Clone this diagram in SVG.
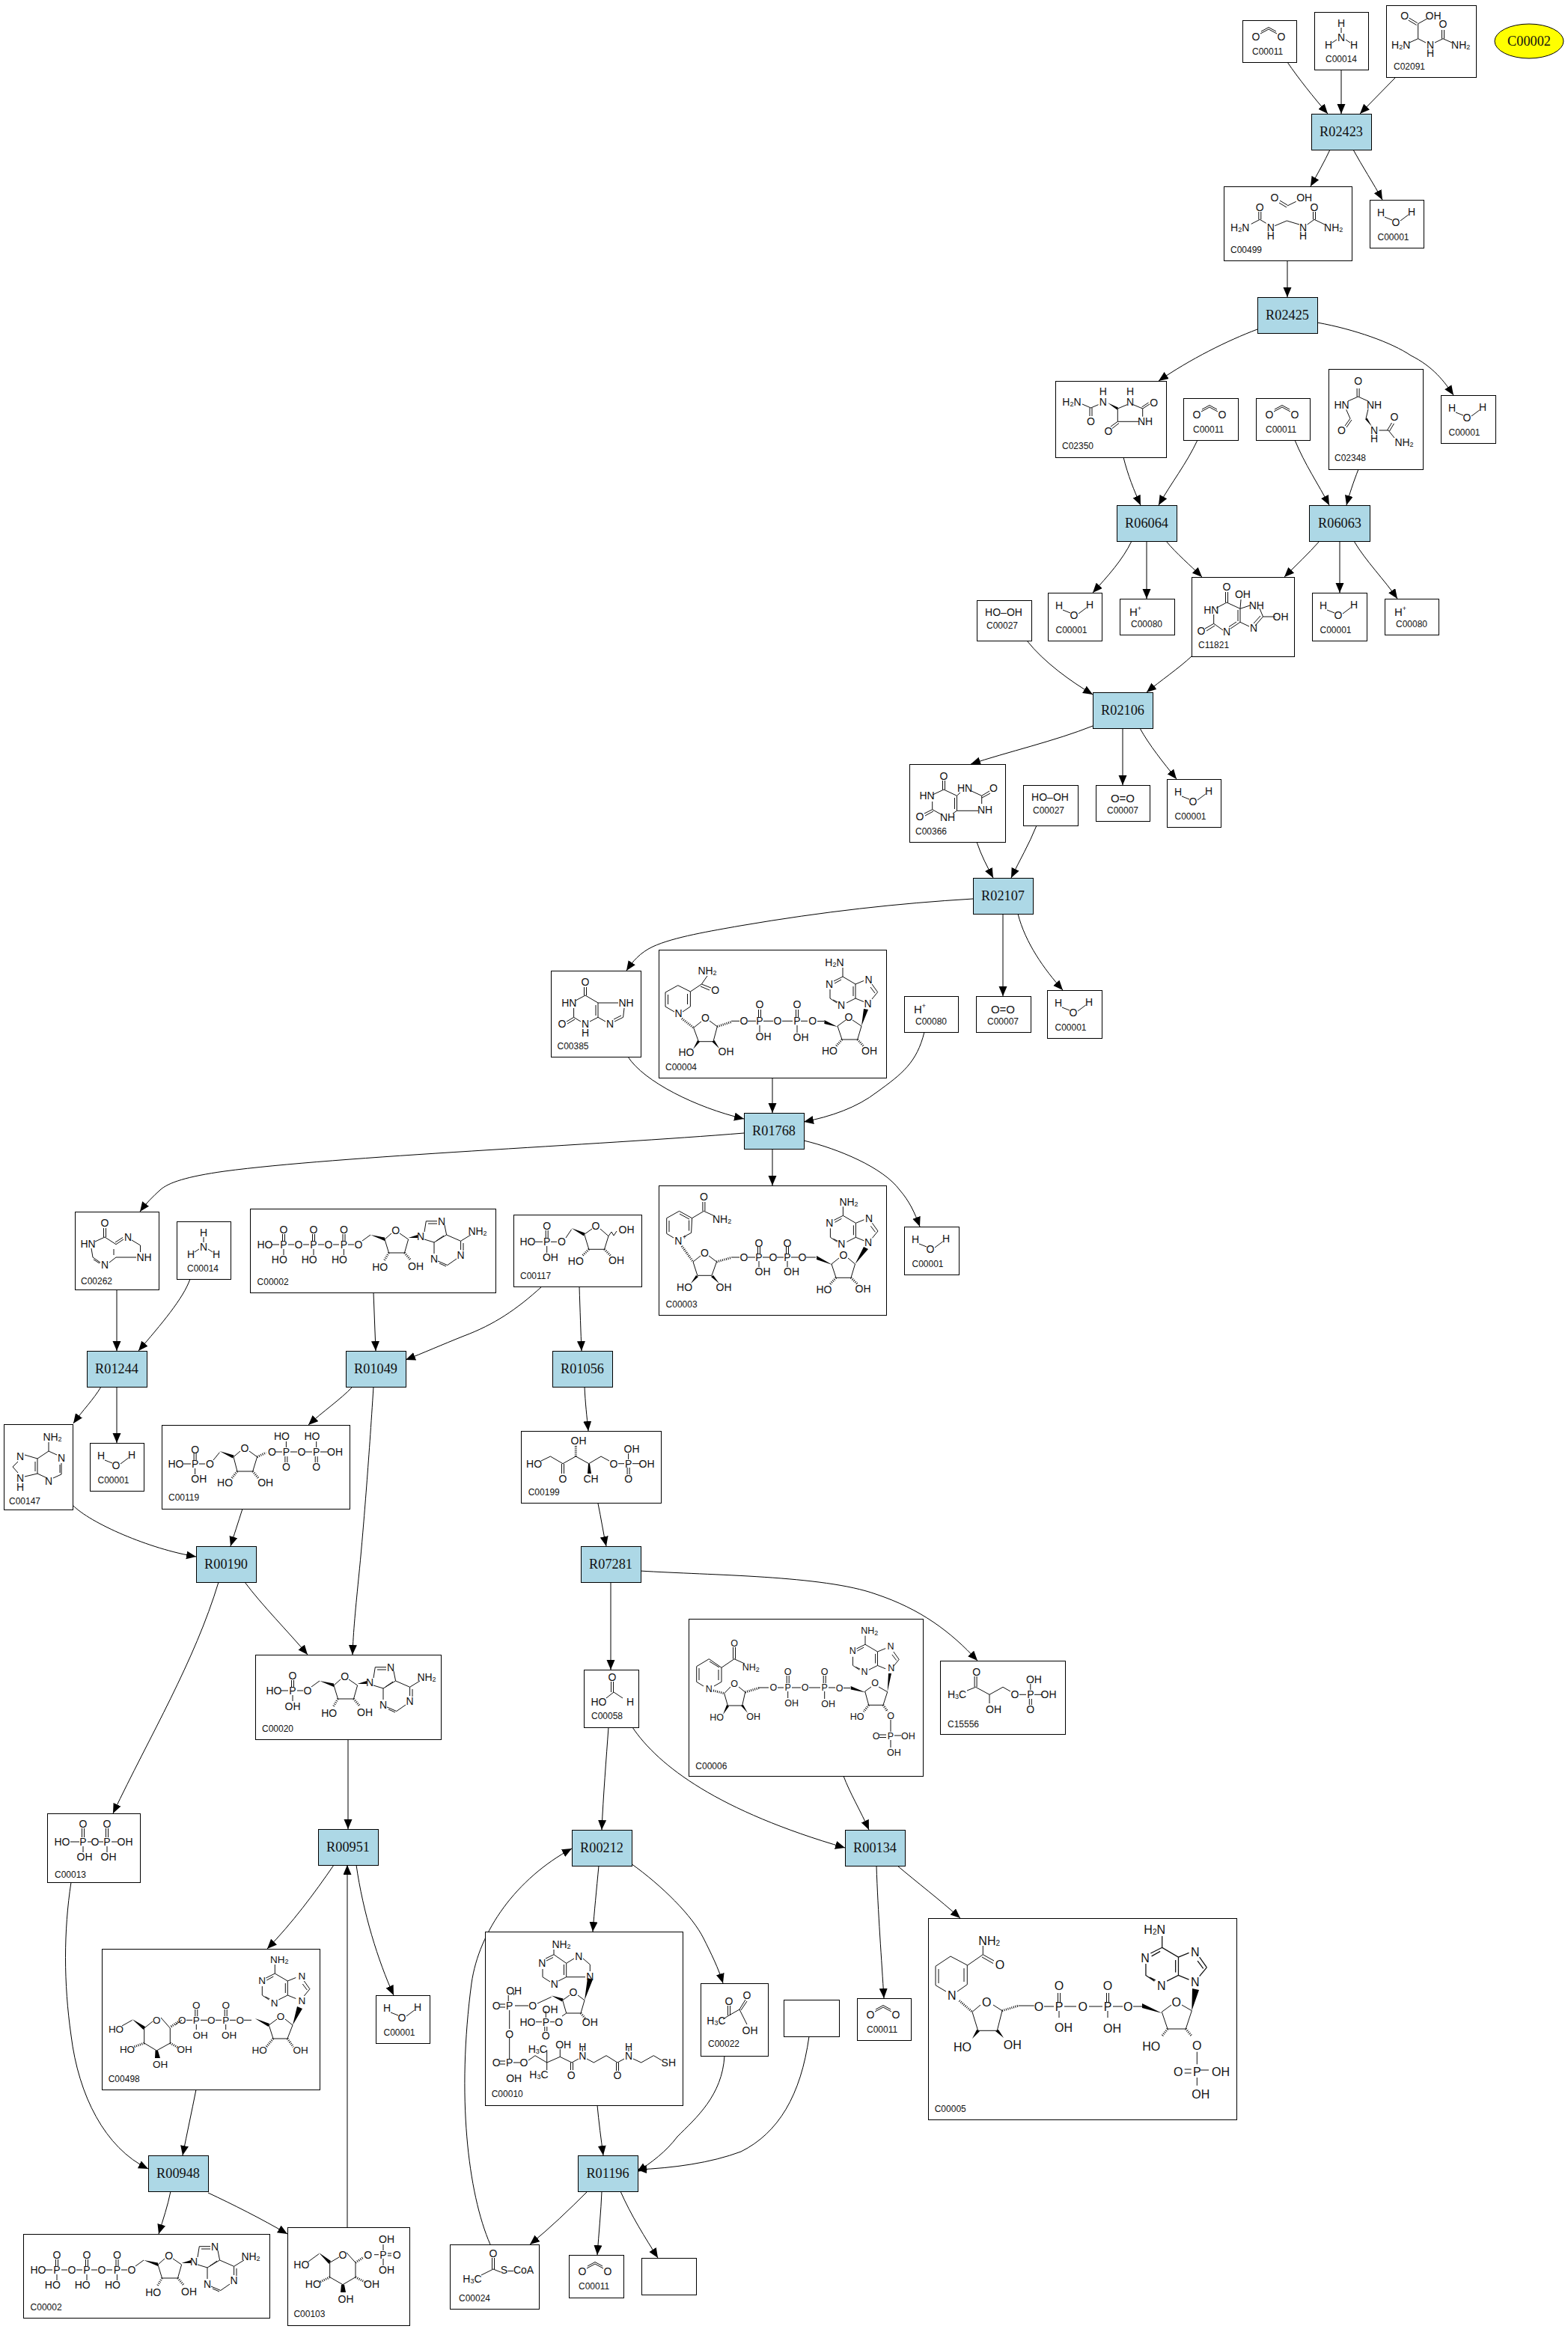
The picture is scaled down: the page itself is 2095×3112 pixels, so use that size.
<svg xmlns="http://www.w3.org/2000/svg" width="2095" height="3112" viewBox="0 0 2095 3112" font-size="14">
<style>
text{font-family:"Liberation Sans",Arial,sans-serif;text-anchor:middle;dominant-baseline:central;fill:#111}
.i{font-family:"Liberation Sans",Arial,sans-serif;font-size:12px;text-anchor:start;dominant-baseline:auto}
.n{fill:#fff;stroke:#000;stroke-width:1;shape-rendering:crispEdges}
.r{fill:#add8e6;stroke:#000;stroke-width:1;shape-rendering:crispEdges}
.r+text,.l{font-family:"Liberation Serif","Times New Roman",serif;font-size:18.3px}
.b{fill:none;stroke:#111;stroke-width:1}
.h{fill:none;stroke:#111;stroke-width:3;stroke-dasharray:1 1.6}
.w{fill:#000;stroke:none}
.e{fill:none;stroke:#000;stroke-width:1;marker-end:url(#a)}
</style>
<defs>
<marker id="a" markerUnits="userSpaceOnUse" markerWidth="14" markerHeight="12" refX="13" refY="5.5" orient="auto"><path d="M0,0L13,5.5L0,11Z" fill="#000"/></marker>
<path id="wb" class="b" d="M20,23L30,27M41,28L51.7,20"/>
<path id="co2" class="b" d="M24,18L35,12L46,18M25,15L35,9.5L45,15"/>
<path id="nh3" class="b" d="M36,21V28M24,41L30,37M48,41L42,37"/>
<path id="ade" class="b" d="M0,-12V0L17,10V29L5,35M-8,35L-17,29V17M-12,6L0,0M-11,9L-2,4M14,13V26M17,10L28,5.5M39,10L46.6,20.7M37,14L43,22M46.6,20.7L39,30M28,33.5L17,29M-13,31L-7,34"/>
<g id="atpb"><path class="b" d="M29,48H39M51,48H59M71,48H79M91,48H99M111,48H119M131,48H139M43.5,34V43M46.5,34V43M83.5,34V43M86.5,34V43M124,34V43M127,34V43M45,54V62M85,54V62M125.4,54V62M150,43L161,35M180,41L189,33M200,33L211.6,41L206.5,59H185.5L180,41M233,31L235.3,16.7H250M238,20H250M260,22L262.6,35L246,45M233,41L246,45V60M259,36L249,43M262.6,35L281.6,43.3V55M251,70L263.8,75.5L276,67M253,73L262,77M285,46V56M281.6,43.3L295,35"/><path class="h" d="M185.5,59L179,70M206.5,59L215,69"/><path class="w" d="M161,35L180,38.5L180,43ZM211.6,39L224,35L224,39Z"/></g>
</defs>
<g id="connectors">
<path class="e" d="M1720,83C1735,105 1755,130 1774,152"/>
<path class="e" d="M1792,94V152"/>
<path class="e" d="M1865,103L1817,152"/>
<path class="e" d="M1777,200C1770,215 1760,233 1751,249"/>
<path class="e" d="M1808,200C1820,222 1835,245 1847,267"/>
<path class="e" d="M1720,348V397"/>
<path class="e" d="M1680,440C1640,455 1590,480 1548,509"/>
<path class="e" d="M1760,431C1810,440 1860,458 1885,475C1915,490 1930,510 1942,528"/>
<path class="e" d="M1501,611C1507,635 1515,655 1524,675"/>
<path class="e" d="M1600,588C1585,620 1565,645 1548,675"/>
<path class="e" d="M1730,588C1743,620 1762,648 1776,675"/>
<path class="e" d="M1815,627C1808,645 1803,660 1799,675"/>
<path class="e" d="M1512,723C1500,748 1480,770 1460,792"/>
<path class="e" d="M1532,723V800"/>
<path class="e" d="M1558,723C1572,740 1590,755 1606,771"/>
<path class="e" d="M1763,723C1748,740 1732,755 1716,771"/>
<path class="e" d="M1790,723V792"/>
<path class="e" d="M1809,723C1825,750 1850,775 1867,800"/>
<path class="e" d="M1592,877C1575,893 1550,910 1532,925"/>
<path class="e" d="M1372,856C1395,885 1430,910 1460,928"/>
<path class="e" d="M1460,970C1410,990 1345,1005 1297,1021"/>
<path class="e" d="M1500,973V1049"/>
<path class="e" d="M1523,973C1535,995 1555,1020 1572,1041"/>
<path class="e" d="M1305,1125C1311,1143 1319,1158 1327,1173"/>
<path class="e" d="M1385,1103C1375,1128 1362,1150 1351,1173"/>
<path class="e" d="M1300,1201C1200,1207 1100,1218 989,1237C950,1244 900,1252 872,1265C855,1273 845,1285 837,1297"/>
<path class="e" d="M1340,1221V1331"/>
<path class="e" d="M1360,1221C1370,1260 1395,1295 1420,1323"/>
<path class="e" d="M839,1412C860,1445 930,1480 994,1495"/>
<path class="e" d="M1032,1440V1487"/>
<path class="e" d="M1235,1379C1225,1420 1205,1435 1172,1459C1145,1480 1110,1492 1074,1499"/>
<path class="e" d="M994,1514C800,1530 450,1545 300,1565C250,1572 225,1580 214,1590C205,1598 195,1608 187,1619"/>
<path class="e" d="M1032,1535V1584"/>
<path class="e" d="M1074,1524C1120,1535 1180,1560 1202,1590C1215,1605 1222,1620 1229,1639"/>
<path class="e" d="M156,1723V1805"/>
<path class="e" d="M254,1709C245,1735 215,1770 185,1805"/>
<path class="e" d="M499,1727L502,1805"/>
<path class="e" d="M724,1719C690,1750 660,1770 620,1785C590,1797 565,1808 542,1817"/>
<path class="e" d="M774,1719C775,1750 776,1780 777,1805"/>
<path class="e" d="M135,1853C125,1870 110,1885 98,1902"/>
<path class="e" d="M156,1853V1928"/>
<path class="e" d="M471,1853C455,1870 430,1887 412,1904"/>
<path class="e" d="M499,1853C493,1950 485,2050 480,2100C475,2150 472,2180 471,2211"/>
<path class="e" d="M781,1853C782,1875 784,1892 786,1912"/>
<path class="e" d="M324,2016C318,2035 313,2050 308,2066"/>
<path class="e" d="M97,2011C120,2035 200,2070 262,2080"/>
<path class="e" d="M799,2009C803,2028 806,2048 810,2066"/>
<path class="e" d="M816,2114V2231"/>
<path class="e" d="M855,2099C950,2105 1100,2105 1170,2130C1230,2150 1270,2180 1306,2219"/>
<path class="e" d="M327,2114C350,2145 385,2180 411,2211"/>
<path class="e" d="M292,2114C260,2220 200,2320 151,2423"/>
<path class="e" d="M465,2324V2444"/>
<path class="e" d="M813,2308C810,2350 806,2400 804,2445"/>
<path class="e" d="M845,2308C880,2360 960,2420 1129,2469"/>
<path class="e" d="M1127,2373C1135,2395 1150,2420 1161,2445"/>
<path class="e" d="M446,2492C420,2530 390,2570 357,2604"/>
<path class="e" d="M476,2492C485,2555 505,2620 526,2666"/>
<path class="e" d="M464,2976V2492"/>
<path class="e" d="M95,2515C85,2580 85,2650 95,2720C105,2800 140,2870 198,2898"/>
<path class="e" d="M262,2792C256,2822 250,2850 244,2880"/>
<path class="e" d="M228,2928C224,2948 218,2965 212,2985"/>
<path class="e" d="M278,2930C310,2945 350,2965 384,2985"/>
<path class="e" d="M655,2999C625,2930 610,2800 630,2650C640,2580 690,2510 764,2470"/>
<path class="e" d="M800,2493C797,2525 794,2555 792,2581"/>
<path class="e" d="M843,2490C885,2520 925,2560 940,2590C950,2610 960,2630 966,2650"/>
<path class="e" d="M798,2813C800,2835 803,2858 806,2880"/>
<path class="e" d="M968,2747C965,2800 930,2830 905,2855C890,2875 870,2890 851,2902"/>
<path class="e" d="M1081,2721C1070,2800 1040,2850 990,2875C950,2890 900,2897 851,2899"/>
<path class="e" d="M1171,2493C1173,2555 1178,2620 1181,2670"/>
<path class="e" d="M1199,2493C1225,2515 1255,2538 1283,2563"/>
<path class="e" d="M785,2928C760,2953 735,2977 708,2999"/>
<path class="e" d="M804,2928C803,2955 800,2985 798,3013"/>
<path class="e" d="M829,2928C843,2960 862,2990 879,3017"/>
</g>

<g id="R02423"><rect class="r" x="1752" y="152" width="80" height="48"/><text x="1792" y="176">R02423</text></g>
<g id="R02425"><rect class="r" x="1680" y="397" width="80" height="48"/><text x="1720" y="421">R02425</text></g>
<g id="R06064"><rect class="r" x="1492" y="675" width="80" height="48"/><text x="1532" y="699">R06064</text></g>
<g id="R06063"><rect class="r" x="1749" y="675" width="81" height="48"/><text x="1790" y="699">R06063</text></g>
<g id="R02106"><rect class="r" x="1460" y="925" width="80" height="48"/><text x="1500" y="949">R02106</text></g>
<g id="R02107"><rect class="r" x="1300" y="1173" width="80" height="48"/><text x="1340" y="1197">R02107</text></g>
<g id="R01768"><rect class="r" x="994" y="1487" width="80" height="48"/><text x="1034" y="1511">R01768</text></g>
<g id="R01244"><rect class="r" x="116" y="1805" width="80" height="48"/><text x="156" y="1829">R01244</text></g>
<g id="R01049"><rect class="r" x="462" y="1805" width="80" height="48"/><text x="502" y="1829">R01049</text></g>
<g id="R01056"><rect class="r" x="738" y="1805" width="80" height="48"/><text x="778" y="1829">R01056</text></g>
<g id="R00190"><rect class="r" x="262" y="2066" width="80" height="48"/><text x="302" y="2090">R00190</text></g>
<g id="R07281"><rect class="r" x="776" y="2066" width="80" height="48"/><text x="816" y="2090">R07281</text></g>
<g id="R00951"><rect class="r" x="425" y="2444" width="80" height="48"/><text x="465" y="2468">R00951</text></g>
<g id="R00212"><rect class="r" x="764" y="2445" width="80" height="48"/><text x="804" y="2469">R00212</text></g>
<g id="R00134"><rect class="r" x="1129" y="2445" width="80" height="48"/><text x="1169" y="2469">R00134</text></g>
<g id="R00948"><rect class="r" x="198" y="2880" width="80" height="48"/><text x="238" y="2904">R00948</text></g>
<g id="R01196"><rect class="r" x="772" y="2880" width="80" height="48"/><text x="812" y="2904">R01196</text></g>
<g id="C00002-key"><ellipse cx="2043" cy="55" rx="46" ry="23" fill="#ff0" stroke="#000"/><text class="l" x="2043" y="55">C00002</text></g>

<g id="C00011-a" transform="translate(1660,27)"><rect class="n" width="72" height="56"/><use href="#co2"/><text x="18" y="22">O</text><text x="52" y="22">O</text><text class="i" x="13" y="46">C00011</text></g>
<g id="C00014-a" transform="translate(1756,16)"><rect class="n" width="72" height="77"/><use href="#nh3"/><text x="36" y="15">H</text><text x="36" y="34">N</text><text x="19" y="44">H</text><text x="53" y="44">H</text><text class="i" x="15" y="67">C00014</text></g>
<g id="C02091" transform="translate(1852,7)"><rect class="n" width="120" height="96"/><path class="b" d="M30.7,17L41.7,23.7M29.7,20L40.7,26.5M42.7,24.7L54.7,18M42.7,24.7V44.7L31,50M42.7,44.7L53,50M65,50L76,44.7L88,50M74.5,44.7V33M77.5,44.7V33"/><text x="24.7" y="13.7">O</text><text x="63" y="13.7">OH</text><text x="76" y="24.7">O</text><text x="19.7" y="53">H<tspan dy="3" font-size="9">2</tspan><tspan dy="-3">N</tspan></text><text x="59" y="53">N</text><text x="59" y="64">H</text><text x="99.7" y="53">NH<tspan dy="3" font-size="9">2</tspan></text><text class="i" x="10" y="86">C02091</text></g>
<g id="C00499" transform="translate(1635,249)"><rect class="n" width="171" height="99"/><path class="b" d="M75,19L85,25M74,22L84,28M85,26L96.7,20.3M36.7,50.3L48.3,44.3L56.7,49.3M46.8,44.3V34M49.8,44.3V34M68.3,52.7L84.3,46L101,51M111.7,51L121,44.3L135,51M119.5,44.3V34M122.5,44.3V34"/><text x="68" y="15">O</text><text x="107.7" y="15">OH</text><text x="21.7" y="55">H<tspan dy="3" font-size="9">2</tspan><tspan dy="-3">N</tspan></text><text x="48.3" y="28.3">O</text><text x="62.7" y="55">N</text><text x="62.7" y="66">H</text><text x="106" y="55">N</text><text x="106" y="66">H</text><text x="121" y="28.3">O</text><text x="146.7" y="55">NH<tspan dy="3" font-size="9">2</tspan></text><text class="i" x="9" y="89">C00499</text></g>
<g id="C00001-a" transform="translate(1830,267)"><rect class="n" width="72" height="64"/><use href="#wb"/><text x="15" y="17">H</text><text x="35" y="30">O</text><text x="56" y="16">H</text><text class="i" x="10.5" y="54">C00001</text></g>
<g id="C02350" transform="translate(1410,509)"><rect class="n" width="148" height="102"/><path class="b" d="M36,31L47.5,36L57.5,31.7M46,36V47M49,36V47M83.3,37L96,31.7M104,31.7L116.7,37V47.7M111.7,54.3H83.3V37M116.7,37L126,31M115.5,35L124.5,29M83.3,54.3L74,61M85,56.5L76,63.5"/><path class="w" d="M70,29.3L84,35.5L82.5,38.5Z"/><text x="22" y="27.7">H<tspan dy="3" font-size="9">2</tspan><tspan dy="-3">N</tspan></text><text x="63.8" y="14.3">H</text><text x="63.8" y="27.7">N</text><text x="100" y="14.3">H</text><text x="100" y="27.7">N</text><text x="131.7" y="28.7">O</text><text x="120" y="54.3">NH</text><text x="71" y="67">O</text><text x="47.5" y="54.3">O</text><text class="i" x="9" y="91">C02350</text></g>
<g id="C00011-b" transform="translate(1581,532)"><rect class="n" width="73" height="56"/><use href="#co2"/><text x="18" y="22">O</text><text x="52" y="22">O</text><text class="i" x="13" y="46">C00011</text></g>
<g id="C00011-c" transform="translate(1678,532)"><rect class="n" width="72" height="56"/><use href="#co2"/><text x="18" y="22">O</text><text x="52" y="22">O</text><text class="i" x="13" y="46">C00011</text></g>
<g id="C02348" transform="translate(1775,493)"><rect class="n" width="126" height="134"/><path class="b" d="M38.1,26V37M41.1,26V37M39.6,37L26,43M39.6,37L53,43M23.7,54.3L29,66.3L22,76M31,68L24,78M53,53.7L50,66.3M67.5,82H80L88,92M78.5,82L84.5,72M81.5,83L87.5,73"/><path class="w" d="M49,67L51.5,65.5L58,77Z"/><text x="39.6" y="16.3">O</text><text x="17.5" y="47.7">HN</text><text x="61" y="47.7">NH</text><text x="17.5" y="82">O</text><text x="61" y="82">N</text><text x="61" y="93">H</text><text x="88" y="64.3">O</text><text x="101" y="97.7">NH<tspan dy="3" font-size="9">2</tspan></text><text class="i" x="8" y="123">C02348</text></g>
<g id="C00001-b" transform="translate(1925,528)"><rect class="n" width="73" height="64"/><use href="#wb"/><text x="15" y="17">H</text><text x="35" y="30">O</text><text x="56" y="16">H</text><text class="i" x="10.5" y="54">C00001</text></g>
<g id="C00001-c" transform="translate(1400,792)"><rect class="n" width="72" height="64"/><use href="#wb"/><text x="15" y="17">H</text><text x="35" y="30">O</text><text x="56" y="16">H</text><text class="i" x="10.5" y="54">C00001</text></g>
<g id="C00080-a" transform="translate(1496,800)"><rect class="n" width="73" height="48"/><text x="21" y="17" font-size="15">H<tspan dy="-4" font-size="9">+</tspan></text><text class="i" x="15" y="38">C00080</text></g>
<g id="C11821" transform="translate(1592,771)"><rect class="n" width="137" height="106"/><path class="b" d="M45.5,20V34M48.5,20V34M47,34L33,41.5M47,34L65,42.3V60.3L52,69M62,44V59M60,60L50,66.5M42,71L29.7,62.3V50M29.7,62.3L18,69M31,65L20,72M65,42.3L66,30M65,42.3L78,38M91,42L95.5,53L85,65M92,52L83,62M95.5,53H112M65,60.3L77,66"/><text x="47" y="13.3">O</text><text x="68.4" y="23">OH</text><text x="86.8" y="37.7">NH</text><text x="119" y="53">OH</text><text x="83" y="68.3">N</text><text x="47" y="73">N</text><text x="13" y="72.3">O</text><text x="26.3" y="44">HN</text><text class="i" x="9" y="95">C11821</text></g>
<g id="C00001-d" transform="translate(1753,792)"><rect class="n" width="73" height="64"/><use href="#wb"/><text x="15" y="17">H</text><text x="35" y="30">O</text><text x="56" y="16">H</text><text class="i" x="10.5" y="54">C00001</text></g>
<g id="C00080-b" transform="translate(1850,800)"><rect class="n" width="72" height="48"/><text x="21" y="17" font-size="15">H<tspan dy="-4" font-size="9">+</tspan></text><text class="i" x="15" y="38">C00080</text></g>
<g id="C00027-a" transform="translate(1305,802)"><rect class="n" width="73" height="54"/><text x="36" y="16">HO–OH</text><text class="i" x="13" y="38">C00027</text></g>
<g id="C00366" transform="translate(1215,1021)"><rect class="n" width="128" height="104"/><path class="b" d="M44.5,22V34M47.5,22V34M46,34L31,41M46,34L63.5,42.3V62.3L58,66M60.5,45V60M63.5,62.3H92M30.7,50V60.7L20,66M32,63L21,69M30.7,60.7L44,68M63.5,42.3L68,38M83,36L96.7,42.3L107,36M97,45L108,39M96.7,42.3V53"/><text x="46" y="15.7">O</text><text x="23.6" y="41.7">HN</text><text x="74" y="32.3">HN</text><text x="112.5" y="32.3">O</text><text x="101" y="60.7">NH</text><text x="14" y="69.7">O</text><text x="51" y="70.7">NH</text><text class="i" x="8" y="94">C00366</text></g>
<g id="C00027-b" transform="translate(1367,1049)"><rect class="n" width="73" height="54"/><text x="36" y="16">HO–OH</text><text class="i" x="13" y="38">C00027</text></g>
<g id="C00007-a" transform="translate(1464,1049)"><rect class="n" width="72" height="48"/><text x="36" y="17" font-size="15">O=O</text><text class="i" x="15" y="38">C00007</text></g>
<g id="C00001-e" transform="translate(1559,1041)"><rect class="n" width="72" height="64"/><use href="#wb"/><text x="15" y="17">H</text><text x="35" y="30">O</text><text x="56" y="16">H</text><text class="i" x="10.5" y="54">C00001</text></g>
<g id="C00385" transform="translate(736,1297)"><rect class="n" width="120" height="115"/><path class="b" d="M44.5,22V33M47.5,22V33M46,33L33,40M46,33L63,43V62.3L52,68M60,46V60M40,68L30.6,62.3V50M30.6,62.3L21,68M32,65L22,71M63,43H90M63,62.3L73,68M85,68L96.6,62.3L98,50M84,65L94,60"/><text x="46" y="15.3">O</text><text x="24.3" y="43">HN</text><text x="100.6" y="43">NH</text><text x="15" y="71.3">O</text><text x="46" y="71.3">N</text><text x="46" y="83">H</text><text x="79" y="71.3">N</text><text class="i" x="8.5" y="105">C00385</text></g>
<g id="C00004" transform="translate(880,1269)"><rect class="n" width="304" height="171"/><path class="b" d="M65,35L57.4,46M57.4,46L70,51M56,49L68,54M57.4,46L42.4,56L25.8,47.7L9,57V76L21,83M32,83L42.4,76V56M38.5,59V73M12.5,60V73M46.7,104.3L57,96M68,95L78.3,102.7L73,122.7H53.4L46.7,104.3M97,95.3H108M119,95.3H130M133.5,80V90M136.5,80V90M135,101V110M140,95.3H153M165,95.3H179M183.5,80V90M186.5,80V90M185,101V111M190,95.3H199M212,95.5H221M239,102L250,94M259,94L271,102L265.7,120H245L239,102"/><path class="h" d="M31,92L46.7,104.3M78.3,102.7L97,96.5M245,120L237,129M265.7,120L274,129"/><path class="w" d="M221.4,94L221.4,99L239,103ZM52,121L55,123L46,133ZM71.5,123L74.5,121L81,132ZM271,102L274,79L280,80Z"/><use href="#ade" transform="translate(246,36)"/><text x="65" y="28.3">NH<tspan dy="3" font-size="9">2</tspan></text><text x="75.6" y="53.7">O</text><text x="26.6" y="85.3">N</text><text x="235" y="16.7">H<tspan dy="3" font-size="9">2</tspan><tspan dy="-3">N</tspan></text><text x="228" y="46">N</text><text x="244" y="74">N</text><text x="280.6" y="40">N</text><text x="279.6" y="71.7">N</text><text x="62.5" y="91">O</text><text x="37" y="137">HO</text><text x="90" y="136.3">OH</text><text x="114" y="95.3">O</text><text x="135" y="95.3">P</text><text x="135" y="73.3">O</text><text x="140" y="116">OH</text><text x="159" y="95.3">O</text><text x="185" y="95.3">P</text><text x="185" y="73.3">O</text><text x="190" y="117">OH</text><text x="205.6" y="95.3">O</text><text x="254" y="90.3">O</text><text x="228.5" y="135.3">HO</text><text x="281.5" y="135.3">OH</text><text class="i" x="9" y="161">C00004</text></g>
<g id="C00080-c" transform="translate(1208,1331)"><rect class="n" width="72" height="48"/><text x="21" y="17" font-size="15">H<tspan dy="-4" font-size="9">+</tspan></text><text class="i" x="15" y="38">C00080</text></g>
<g id="C00007-b" transform="translate(1304,1331)"><rect class="n" width="73" height="48"/><text x="36" y="17" font-size="15">O=O</text><text class="i" x="15" y="38">C00007</text></g>
<g id="C00001-f" transform="translate(1399,1323)"><rect class="n" width="73" height="64"/><use href="#wb"/><text x="15" y="17">H</text><text x="35" y="30">O</text><text x="56" y="16">H</text><text class="i" x="10.5" y="54">C00001</text></g>
<g id="C00003" transform="translate(880,1584)"><rect class="n" width="304" height="173"/><path class="b" d="M58.9,22V34.3M61.9,22V34.3M60.4,34.3L75,41M60.4,34.3L44.6,43.7L27.5,34.3L10.7,43.7V64.3L20,70M33,69L43.6,63.3L44.6,43.7M40.6,46.5V60.5M14,47V62M28,38L41,45M46,102L56,94M67,94L77.5,102L71,120.3H51.8L46,102M97,96H108M119,96H129M132.5,82V91M135.5,82V91M134,101V109M139,96H148M158,96H167M170.5,82V91M173.5,82V91M172,101V109M177,96H187M197,96H210M231,105L241,97M253,97L262.5,105L257,123.3H237L231,105"/><path class="h" d="M31,81L46,102M77.5,102L97,96.5M237,123.3L229,132M257,123.3L266,132"/><path class="w" d="M211,94L211,99L232,106ZM50,120L53,122L43,131ZM70,122L73,120L81,131ZM262.5,105L274,82L280,85Z"/><use href="#ade" transform="translate(246.4,40.3)"/><text x="60.4" y="15.3">O</text><text x="84.6" y="45.3">NH<tspan dy="3" font-size="9">2</tspan></text><text x="26.4" y="73.7">N</text><text x="34.6" y="68.7" font-size="9">+</text><text x="61.4" y="90">O</text><text x="34.6" y="136">HO</text><text x="87" y="136">OH</text><text x="114" y="96">O</text><text x="134" y="96">P</text><text x="134" y="77">O</text><text x="139" y="115">OH</text><text x="153" y="96">O</text><text x="172" y="96">P</text><text x="172" y="77">O</text><text x="177.5" y="115">OH</text><text x="192" y="96">O</text><text x="247" y="93.3">O</text><text x="221" y="138.7">HO</text><text x="273" y="138">OH</text><text x="254" y="21.7">NH<tspan dy="3" font-size="9">2</tspan></text><text x="228.4" y="50.3">N</text><text x="244.4" y="78.3">N</text><text x="281" y="44.3">N</text><text x="280" y="76">N</text><text class="i" x="9.6" y="163">C00003</text></g>
<g id="C00001-g" transform="translate(1208,1639)"><rect class="n" width="73" height="64"/><use href="#wb"/><text x="15" y="17">H</text><text x="35" y="30">O</text><text x="56" y="16">H</text><text class="i" x="10.5" y="54">C00001</text></g>
<g id="C00262" transform="translate(100,1619)"><rect class="n" width="112" height="104"/><path class="b" d="M38.5,22V34M41.5,22V34M40,34L27,40M40,34L55,43.7L65,37M54,41L64,34.5M22,49L24,61L34,68M46,68L55,61M52,50V58M55,61H82M76,38L87.5,45V54M25,64L33,69"/><text x="40" y="15">O</text><text x="17.5" y="42.7">HN</text><text x="71" y="33.7">N</text><text x="92.6" y="61">NH</text><text x="40" y="71">N</text><text class="i" x="8" y="97">C00262</text></g>
<g id="C00014-b" transform="translate(236,1632)"><rect class="n" width="72" height="77"/><use href="#nh3"/><text x="36" y="15">H</text><text x="36" y="34">N</text><text x="19" y="44">H</text><text x="53" y="44">H</text><text class="i" x="14" y="67">C00014</text></g>
<g id="C00002-a" transform="translate(334,1615)"><rect class="n" width="328" height="112"/><use href="#atpb"/><text x="20" y="48">HO</text><text x="45" y="48">P</text><text x="45" y="28.3">O</text><text x="39.3" y="68.3">HO</text><text x="65" y="48">O</text><text x="85" y="48">P</text><text x="85" y="28.3">O</text><text x="79.2" y="68.3">HO</text><text x="105" y="48">O</text><text x="125.4" y="48">P</text><text x="125.4" y="28.3">O</text><text x="119.5" y="68.3">HO</text><text x="145" y="48">O</text><text x="194.6" y="29">O</text><text x="173.7" y="78.3">HO</text><text x="221.5" y="76.7">OH</text><text x="228" y="36.7">N</text><text x="256" y="16.7">N</text><text x="246" y="66.7">N</text><text x="281.6" y="62.3">N</text><text x="304" y="30">NH<tspan dy="3" font-size="9">2</tspan></text><text class="i" x="9.6" y="102">C00002</text></g>
<g id="C00117" transform="translate(686,1623)"><rect class="n" width="171" height="96"/><path class="b" d="M29,36.3H39M50,36.3H58M43.2,21V31M46.2,21V31M44.7,42V51M70,31L77.6,19.7M94.7,26.3L105,19M116,19L127,28.7L121.5,46.3H100.8L94.7,26.3M127,28.7L131,23L134,28L138,22"/><path class="h" d="M100.8,46.3L92,55M121.5,46.3L130,55"/><path class="w" d="M77.6,18L95.5,24.5L94,28.5Z"/><text x="19" y="36.3">HO</text><text x="44.7" y="36.3">P</text><text x="44.7" y="15.3">O</text><text x="49.4" y="57">OH</text><text x="64.4" y="36.3">O</text><text x="110" y="15.3">O</text><text x="83.3" y="62">HO</text><text x="137.6" y="61.3">OH</text><text x="151" y="20.3">OH</text><text class="i" x="9" y="86">C00117</text></g>
<g id="C00147" transform="translate(5,1903)"><rect class="n" width="92" height="114"/><path class="b" d="M60,24V36L45,46V66L58,72M60,36L71,41M77,52V67L66,72M45,46L28,41M45,66L28,70M19,50L12,57L19,65M42,50V63M75,54V65"/><text x="65" y="17">NH<tspan dy="3" font-size="9">2</tspan></text><text x="77" y="45">N</text><text x="60" y="76">N</text><text x="22" y="43">N</text><text x="22" y="72">N</text><text x="22" y="84">H</text><text class="i" x="7" y="107">C00147</text></g>
<g id="C00001-h" transform="translate(120,1928)"><rect class="n" width="72" height="64"/><use href="#wb"/><text x="15" y="17">H</text><text x="35" y="30">O</text><text x="56" y="16">H</text><text class="i" x="10.5" y="54">C00001</text></g>
<g id="C00119" transform="translate(216,1904)"><rect class="n" width="251" height="112"/><path class="b" d="M29,52H39M50,52H58M43.1,38V47M46.1,38V47M44.6,58V66M69,47L77.4,36.7M96,42.7L105,35M117,35L127.6,42.7L121.7,62H101L96,42.7M152,36H161M172,36H181M192,36H201M212,36H222M166.4,22V30M164.9,42V50M167.9,42V50M206.7,22V30M205.2,42V50M208.2,42V50"/><path class="h" d="M127.6,42.7L139.5,37M101,62L93,72M121.7,62L130,72"/><path class="w" d="M77.4,35L96.5,40.5L95,44.5Z"/><text x="19" y="52">HO</text><text x="44.6" y="52">P</text><text x="44.6" y="32.7">O</text><text x="49.8" y="72">OH</text><text x="64.4" y="52">O</text><text x="111" y="31">O</text><text x="84.6" y="76.7">HO</text><text x="138.7" y="76.7">OH</text><text x="147.4" y="36">O</text><text x="166.4" y="36">P</text><text x="160.5" y="15.3">HO</text><text x="166.4" y="56">O</text><text x="187" y="36">O</text><text x="206.7" y="36">P</text><text x="201" y="15.3">HO</text><text x="206.7" y="56">O</text><text x="231.6" y="36">OH</text><text class="i" x="9" y="101">C00119</text></g>
<g id="C00199" transform="translate(696,1912)"><rect class="n" width="187" height="96"/><path class="b" d="M27,40L39.4,34L56,43.7L73.3,34L90.8,43.7L107,34L118,40M54.5,44V57M57.5,44V57M130,43.7H138M149,43.7H160M143.6,30V38M142.1,49V58M145.1,49V58"/><path class="h" d="M73.3,34V20"/><path class="w" d="M90,44L92,44L94,57H89Z"/><text x="17.6" y="43.7">HO</text><text x="56" y="63.7">O</text><text x="77" y="13">OH</text><text x="93.6" y="63.7">CH</text><text x="124" y="43.7">O</text><text x="143.6" y="43.7">P</text><text x="148" y="23.7">OH</text><text x="143.6" y="63.7">O</text><text x="168" y="43.7">OH</text><text class="i" x="9.7" y="86">C00199</text></g>
<g id="C00020" transform="translate(341,2211)"><rect class="n" width="248" height="113"/><path class="b" d="M34,48H44M56,48H64M48.5,34V43M51.5,34V43M50,54V62M75,43L86,35M105,41L114,33M125,33L136.6,41L131.5,59H110.5L105,41M158,31L160.3,16.7H175M163,20H175M185,22L187.6,35L171,45M158,41L171,45V60M184,36L174,43M187.6,35L206.6,43.3V55M176,70L188.8,75.5L201,67M178,73L187,77M210,46V56M206.6,43.3L220,35"/><path class="h" d="M110.5,59L104,70M131.5,59L140,69"/><path class="w" d="M86,35L105,38.5L105,43ZM136.6,39L149,35L149,39Z"/><text x="25" y="48">HO</text><text x="50" y="48">P</text><text x="50" y="28.3">O</text><text x="50" y="69">OH</text><text x="70" y="48">O</text><text x="119.6" y="29">O</text><text x="98.7" y="78.3">HO</text><text x="146.5" y="76.7">OH</text><text x="153" y="36.7">N</text><text x="181" y="16.7">N</text><text x="171" y="66.7">N</text><text x="206.6" y="62.3">N</text><text x="229" y="30">NH<tspan dy="3" font-size="9">2</tspan></text><text class="i" x="9" y="103">C00020</text></g>
<g id="C00058" transform="translate(780,2231)"><rect class="n" width="73" height="77"/><path class="b" d="M30,38L40,30L52,38M36.5,16V30M39.5,16V30"/><text x="38" y="10">O</text><text x="20" y="43">HO</text><text x="62" y="43">H</text><text class="i" x="10" y="66">C00058</text></g>
<g id="C00006" transform="translate(920,2163)"><rect class="n" width="313" height="210"/><g font-size="12.5"><path class="b" d="M59.5,38V53.7M62.5,38V53.7M61,53.7L75,60M61,53.7L44,65.3L27.3,53.7L10.7,63.7V84.3L20,90M34,90L44,84.3V65.3M40,68V82M14,66V82M28,57L41,65M47.7,99.7L56,91M67,91L75.7,98L71.7,116H52.3L47.7,99.7M94,92H107M119,92H127M131.2,76V86M134.2,76V86M132.7,97V106M138,92H150M161,92H176M180.2,76V86M183.2,76V86M181.7,97V107M187,92H196M207,92.5H216M235.7,97L244,91M254,91L265.7,97.7L260,115.3H240.7L235.7,97M270,135V151M255,155H264M255,158.5H264M275,156H284M270,162V172"/><path class="h" d="M33,96L47.7,99.7M75.7,98L94,92.5M240.7,115.3L234,124M260,115.3L266,124"/><path class="w" d="M216.7,90L216.7,94.5L236.5,98.5ZM51,115L54,117L46,128ZM70,116L73,115L79,126ZM265.7,97.7L267,73L271,73Z"/><use href="#ade" transform="translate(236,34.3) scale(.97)"/><text x="61" y="33">O</text><text x="83.3" y="65.3">NH<tspan dy="3" font-size="9">2</tspan></text><text x="27.3" y="93.7">N</text><text x="61" y="87">O</text><text x="37.7" y="132">HO</text><text x="86.7" y="131">OH</text><text x="113.3" y="92">O</text><text x="132.7" y="92">P</text><text x="132.7" y="71">O</text><text x="137.7" y="113">OH</text><text x="155.7" y="92">O</text><text x="181.7" y="92">P</text><text x="181.7" y="71">O</text><text x="186.7" y="114">OH</text><text x="201.7" y="92.7">O</text><text x="249" y="86.3">O</text><text x="225" y="131">HO</text><text x="270" y="130.3">O</text><text x="270" y="157">P</text><text x="250.7" y="157">O</text><text x="293.3" y="157">OH</text><text x="274.3" y="178.7">OH</text><text x="270.7" y="66.3">N</text><text x="270" y="37">N</text><text x="219.3" y="43">N</text><text x="235" y="71">N</text><text x="241.7" y="16">NH<tspan dy="3" font-size="9">2</tspan></text></g><text class="i" x="9.3" y="201">C00006</text></g>
<g id="C15556" transform="translate(1256,2219)"><rect class="n" width="167" height="98"/><path class="b" d="M36,40L47.6,35.3L66,45.3L84,35.3L94,41M46.1,35V21M49.1,35V21M66,45.3V57M106,45.3H115M126,45.3H137M120.8,31V39M119.3,51V59M122.3,51V59"/><text x="22.6" y="45.3">H<tspan dy="3" font-size="9">3</tspan><tspan dy="-3">C</tspan></text><text x="48.6" y="15">O</text><text x="71.5" y="65">OH</text><text x="100" y="45.3">O</text><text x="120.8" y="45.3">P</text><text x="125.4" y="25">OH</text><text x="120.8" y="65">O</text><text x="145" y="45.3">OH</text><text class="i" x="10" y="89">C15556</text></g>
<g id="C00013" transform="translate(63,2423)"><rect class="n" width="124" height="92"/><path class="b" d="M31,38H43M54,38H59M69,38H75M86,38H94M46.5,20V32M49.5,20V32M78.5,20V32M81.5,20V32M48,44V52M80,44V52"/><text x="20" y="38">HO</text><text x="48" y="38">P</text><text x="48" y="14">O</text><text x="64" y="38">O</text><text x="80" y="38">P</text><text x="80" y="14">O</text><text x="104" y="38">OH</text><text x="50" y="58">OH</text><text x="82" y="58">OH</text><text class="i" x="10" y="86">C00013</text></g>
<g id="C00498" transform="translate(136,2604)"><rect class="n" width="291" height="188"/><g font-size="13.5"><path class="b" d="M79,92L91.3,106V126L73.3,136L56.7,126V106L68,97M40.7,95.3L27,103M98,102L107,95M113,95.3H121M132,95.3H141M152,95.3H160M171,95.3H179M190,95.3H200M124.8,81V90M127.8,81V90M126.3,101V108M164.2,81V90M167.2,81V90M165.7,101V108M223.3,102L234,94M245,94L255,102L248,120H229L223.3,102"/><path class="h" d="M102,97.5L92,104.3M56.7,126L43,131M91.3,126L102,132M229,120L220,131M248,120L256,131"/><path class="w" d="M40.7,94L58,104L55.5,108ZM71.5,136H75L78,146H71ZM204.7,93L224,100L222.5,104ZM255,102L261,77L268,80Z"/><use href="#ade" transform="translate(231.3,33)"/><text x="237.3" y="14.3">NH<tspan dy="3" font-size="9">2</tspan></text><text x="214" y="42.7">N</text><text x="230.7" y="72.7">N</text><text x="267.3" y="36.7">N</text><text x="267.3" y="69.3">N</text><text x="239" y="90">O</text><text x="210.7" y="135">HO</text><text x="265.7" y="135">OH</text><text x="184.7" y="95.3">O</text><text x="165.7" y="95.3">P</text><text x="165.7" y="75.3">O</text><text x="170" y="115">OH</text><text x="146.3" y="95.3">O</text><text x="126.3" y="95.3">P</text><text x="126.3" y="75.3">O</text><text x="131.7" y="115">OH</text><text x="107.3" y="95.3">O</text><text x="73.3" y="95.3">O</text><text x="19" y="107">HO</text><text x="34" y="134.3">HO</text><text x="110.7" y="134.3">OH</text><text x="78" y="154.3">OH</text></g><text class="i" x="8.7" y="178">C00498</text></g>
<g id="C00001-i" transform="translate(502,2666)"><rect class="n" width="72" height="64"/><use href="#wb"/><text x="15" y="17">H</text><text x="35" y="30">O</text><text x="56" y="16">H</text><text class="i" x="10.5" y="54">C00001</text></g>
<g id="C00010" transform="translate(648,2581)"><rect class="n" width="264" height="232"/><path class="b" d="M92,24V30.7L108.7,42.3V60.7L98,66M87,67L77,60.7V50M81,36L92,30.7M82,39L91,34.5M105.5,44V58M108.7,42.3L119,36M131,36L140.3,44V53M108.7,60.7H134M103.7,91.7L113,85M124,85L133,91.7L128,109H108.7L103.7,91.7M88.7,87.3L70,96M40,99H58M31.2,85V93M32.7,105V130M32.7,142V170M20,97H27M20,101H27M20,173H27M20,177H27M38,175H47M58,172L67,165.7L82.7,175V158M82.7,175V185M82.7,175L100.3,167.3L116,175L125,170M100.3,167.3V157M114.5,175V185M117.5,175V185M136,170L145.3,175L162,165.7L177,175L186,170M175.5,175V186M178.5,175V186M198,170L208.7,175L225.3,165.7L236,172M130.3,160V155M192,160V155M68,120.7H76M87,120.7H93M81.3,106V115M79.8,127V133M82.8,127V133M38.7,85V82M103,113L108.7,109"/><path class="h" d="M128,109L134,116"/><path class="w" d="M133,91.7L137,62L144,64ZM88.7,85.5L104.5,89.5L103,93.5Z"/><text x="102" y="17.3">NH<tspan dy="3" font-size="9">2</tspan></text><text x="76.3" y="42.3">N</text><text x="92.7" y="70">N</text><text x="125.3" y="33">N</text><text x="140.3" y="59.7">N</text><text x="118" y="80.7">O</text><text x="63.7" y="99">O</text><text x="32.7" y="99">P</text><text x="38.7" y="79">OH</text><text x="15.3" y="99">O</text><text x="32.7" y="136.7">O</text><text x="32.7" y="175">P</text><text x="15.3" y="175">O</text><text x="38.7" y="196.3">OH</text><text x="52" y="175">O</text><text x="70.3" y="157.3">H<tspan dy="3" font-size="9">3</tspan><tspan dy="-3">C</tspan></text><text x="72" y="190.7">H<tspan dy="3" font-size="9">3</tspan><tspan dy="-3">C</tspan></text><text x="104.7" y="150.7">OH</text><text x="115.3" y="191.7">O</text><text x="130.3" y="154">H</text><text x="130.3" y="165.7">N</text><text x="177" y="192.3">O</text><text x="192" y="154">H</text><text x="192" y="165.7">N</text><text x="245.3" y="175">SH</text><text x="98.7" y="120.7">O</text><text x="81.3" y="120.7">P</text><text x="87" y="104">OH</text><text x="57" y="121.3">HO</text><text x="81.3" y="139">O</text><text x="140.3" y="121.3">OH</text><text class="i" x="8.7" y="221">C00010</text></g>
<g id="C00022" transform="translate(936,2650)"><rect class="n" width="90" height="97"/><path class="b" d="M30,48L38,43L52,35L60,22M54,36L62,24M52,35L62,55M36.5,43V30M39.5,43V30"/><text x="38" y="24">O</text><text x="62" y="16">O</text><text x="21" y="50">H<tspan dy="3" font-size="9">3</tspan><tspan dy="-3">C</tspan></text><text x="66" y="63">OH</text><text class="i" x="10" y="85">C00022</text></g>
<g id="empty-a"><rect class="n" x="1047" y="2672" width="74" height="49"/></g>
<g id="C00011-d" transform="translate(1145,2670)"><rect class="n" width="72" height="56"/><use href="#co2"/><text x="18" y="22">O</text><text x="52" y="22">O</text><text class="i" x="13" y="46">C00011</text></g>
<g id="C00005" transform="translate(1240,2563)"><rect class="n" width="412" height="269"/><g font-size="16"><path class="b" d="M73.3,37V48.7L52.7,63L30,51L10,64.3V89.7L24,98M39,98L52.3,88.7V63M48,67V85M14,68V87M73.3,48.7L88,57M72,52L87,60.5M59,125.3L70,116M87,116L99,123.7L92.3,150.3H66.7L59,125.3M120.7,117H141.7M155,118H168M182,118H198M215,118H233M173.5,100V113M176.5,100V113M175,124V133M238.5,100V113M241.5,100V113M240,124V133M247,118H260M274,118H286M312.3,125.3L325,116M339,116L352.3,123.7L344.3,148H320L312.3,125.3M359.3,178.7V195.3M342.7,202H351.7M342.7,207H351.7M364,203H375M359.3,213V223.7"/><path class="h" d="M41.7,110.3L59,125.3M99,123.7L120.7,117M320,148L313,157M344.3,148L351.7,157"/><path class="w" d="M286,114L286,120L312.5,127ZM65,149L69,151L59,161ZM90,151L94,149L101,160ZM352.3,123.7L353,94L362,96Z"/><use href="#ade" transform="translate(312.7,39.3) scale(1.28)"/><text x="81.7" y="30.3">NH<tspan dy="3" font-size="10">2</tspan></text><text x="96" y="62">O</text><text x="31.7" y="103.7">N</text><text x="78.3" y="112">O</text><text x="46" y="172">HO</text><text x="112.7" y="169.7">OH</text><text x="148" y="118">O</text><text x="175" y="118">P</text><text x="175" y="90.3">O</text><text x="181" y="146">OH</text><text x="206.7" y="118">O</text><text x="240" y="118">P</text><text x="240" y="90.3">O</text><text x="246" y="147">OH</text><text x="267.3" y="118">O</text><text x="331.7" y="112">O</text><text x="298.3" y="171">HO</text><text x="359.3" y="170.3">O</text><text x="359.3" y="205.3">P</text><text x="334.3" y="205.3">O</text><text x="391" y="205.3">OH</text><text x="364.3" y="235.3">OH</text><text x="302.7" y="15.3">H<tspan dy="3" font-size="10">2</tspan><tspan dy="-3">N</tspan></text><text x="290" y="53.7">N</text><text x="311.7" y="90.3">N</text><text x="356.7" y="45.3">N</text><text x="356.7" y="85.3">N</text></g><text class="i" x="8.7" y="259">C00005</text></g>
<g id="C00002-b" transform="translate(31,2985)"><rect class="n" width="329" height="112"/><use href="#atpb"/><text x="20" y="48">HO</text><text x="45" y="48">P</text><text x="45" y="28.3">O</text><text x="39.3" y="68.3">HO</text><text x="65" y="48">O</text><text x="85" y="48">P</text><text x="85" y="28.3">O</text><text x="79.2" y="68.3">HO</text><text x="105" y="48">O</text><text x="125.4" y="48">P</text><text x="125.4" y="28.3">O</text><text x="119.5" y="68.3">HO</text><text x="145" y="48">O</text><text x="194.6" y="29">O</text><text x="173.7" y="78.3">HO</text><text x="221.5" y="76.7">OH</text><text x="228" y="36.7">N</text><text x="256" y="16.7">N</text><text x="246" y="66.7">N</text><text x="281.6" y="62.3">N</text><text x="304" y="30">NH<tspan dy="3" font-size="9">2</tspan></text><text class="i" x="9.6" y="102">C00002</text></g>
<g id="C00103" transform="translate(384,2976)"><rect class="n" width="163" height="131"/><path class="b" d="M79,34L91,47.3V66.7L74,76.7L56.7,66.7V47.3L69,40M42,35.7L28,46M116,36.7H122M128,23V31M128,42V51M134,35H139M134,38H139"/><path class="h" d="M91,47.3L102,40M56.7,66.7L44,73M91,66.7L103,73"/><path class="w" d="M42,34L58,45L55.5,49ZM72,76.7H76L78,87H71Z"/><text x="18.8" y="50">HO</text><text x="74" y="36.7">O</text><text x="34.3" y="75.7">HO</text><text x="112.6" y="75.7">OH</text><text x="78" y="95.7">OH</text><text x="107.7" y="36.7">O</text><text x="128" y="36.7">P</text><text x="146.3" y="36.7">O</text><text x="132.6" y="16.3">OH</text><text x="132.6" y="57.3">OH</text><text class="i" x="8.4" y="120">C00103</text></g>
<g id="C00024" transform="translate(601,2999)"><rect class="n" width="119" height="86"/><path class="b" d="M42,41L58,33L68,37M56.5,33V18M59.5,33V18"/><text x="30" y="46">H<tspan dy="3" font-size="9">3</tspan><tspan dy="-3">C</tspan></text><text x="58" y="12">O</text><text x="90" y="34">S–CoA</text><text class="i" x="12" y="76">C00024</text></g>
<g id="C00011-e" transform="translate(760,3013)"><rect class="n" width="73" height="57"/><use href="#co2"/><text x="18" y="22">O</text><text x="52" y="22">O</text><text class="i" x="13" y="46">C00011</text></g>
<g id="empty-b"><rect class="n" x="857" y="3017" width="73" height="49"/></g>
</svg>
